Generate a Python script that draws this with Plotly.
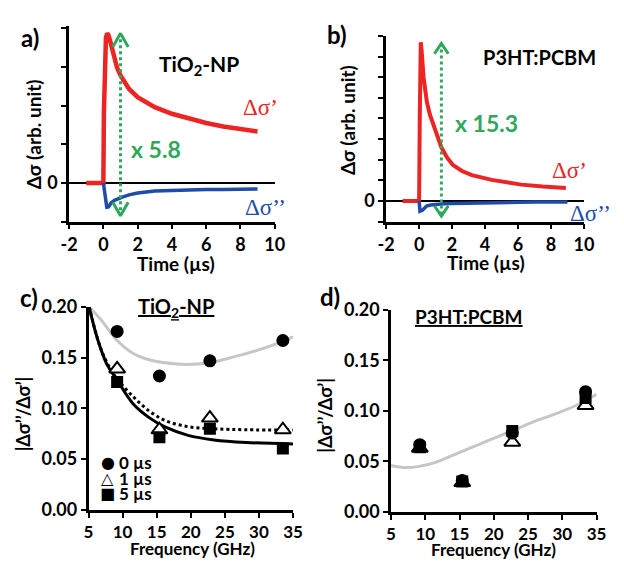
import plotly.graph_objects as go

W, H = 624, 566

# ---------------- data ----------------
# panel a (TiO2-NP) transients
a_t_re = [-1.0, -0.5, 0.0, 0.03, 0.1, 0.15, 0.22, 0.3, 0.38, 0.45, 0.64, 0.8, 1.0, 1.2, 1.5, 2.0, 2.5, 3.0, 4.0, 5.0, 6.0, 7.0, 8.0, 9.0]
a_re = [0.0, 0.0, 0.0, 1.8, 3.5, 3.76, 3.87, 3.82, 3.7, 3.58, 3.26, 2.98, 2.78, 2.63, 2.43, 2.22, 2.08, 1.96, 1.79, 1.66, 1.55, 1.46, 1.39, 1.33]
a_t_im = [0.0, 0.1, 0.2, 0.3, 0.45, 0.65, 0.9, 1.1, 1.5, 2.0, 3.0, 4.0, 5.0, 6.0, 7.0, 8.0, 9.0]
a_im = [0.0, -0.4, -0.63, -0.62, -0.52, -0.45, -0.4, -0.37, -0.31, -0.26, -0.21, -0.19, -0.18, -0.17, -0.17, -0.16, -0.16]

# panel b (P3HT:PCBM) transients
b_t_re = [-1.0, -0.5, 0.0, 0.04, 0.1, 0.15, 0.27, 0.47, 0.65, 0.86, 1.1, 1.35, 1.7, 2.04, 2.6, 3.2, 4.4, 5.3, 6.2, 7.5, 8.9]
b_re = [0.0, 0.0, 0.0, 4.0, 7.7, 7.3, 6.0, 4.8, 4.2, 3.7, 3.1, 2.6, 2.1, 1.75, 1.45, 1.25, 1.02, 0.9, 0.79, 0.7, 0.63]
b_t_im = [0.0, 0.05, 0.2, 0.45, 0.7, 1.0, 1.5, 2.0, 3.0, 4.0, 5.0, 6.0, 7.0, 8.0, 9.0]
b_im = [0.0, -0.5, -0.45, -0.25, -0.2, -0.17, -0.14, -0.12, -0.1, -0.08, -0.07, -0.06, -0.05, -0.05, -0.05]

# ratio arrows
a_arrow = dict(x=1.0, top=3.87, bottom=-0.85, hw=0.45, hh=0.35)
b_arrow = dict(x=1.35, top=7.64, bottom=-0.74, hw=0.42, hh=0.5)

# panel c (TiO2-NP) ratio vs frequency
freq = [9.2, 15.4, 22.8, 33.5]
c_0us = [0.176, 0.132, 0.147, 0.167]
c_1us = [0.139, 0.079, 0.0905, 0.079]
c_5us = [0.126, 0.0715, 0.080, 0.0605]
c_fit0_x = [5.1, 6.8, 9.2, 11.5, 13.9, 16.3, 18.7, 22.7, 25.8, 29.6, 33.4, 35.0]
c_fit0_y = [0.200, 0.1877, 0.167, 0.1545, 0.148, 0.145, 0.1435, 0.145, 0.150, 0.157, 0.166, 0.1705]
c_fit1_x = [5.1, 6.8, 8.2, 9.2, 11.5, 13.9, 16.3, 19.6, 23.4, 28.1, 35.0]
c_fit1_y = [0.200, 0.159, 0.139, 0.129, 0.112, 0.0975, 0.088, 0.082, 0.080, 0.079, 0.0787]
c_fit5_x = [5.1, 6.3, 7.7, 9.2, 11.5, 13.9, 16.3, 19.6, 23.4, 28.1, 35.0]
c_fit5_y = [0.200, 0.169, 0.1435, 0.128, 0.105, 0.091, 0.0815, 0.0735, 0.069, 0.0665, 0.065]

# panel d (P3HT:PCBM)
d_freq = [9.2, 15.4, 22.7, 33.4]
d_0us = [0.0665, 0.031, 0.078, 0.119]
d_1us = [0.063, 0.029, 0.069, 0.1054]
d_5us = [0.064, 0.030, 0.080, 0.1127]
d_fit_x = [5.0, 7.2, 9.1, 11.5, 13.9, 16.7, 19.5, 22.4, 25.7, 28.9, 32.3, 35.0]
d_fit_y = [0.046, 0.0438, 0.045, 0.049, 0.0556, 0.0635, 0.0714, 0.0794, 0.0889, 0.0968, 0.1063, 0.1165]

time_ticks = [-2, 0, 2, 4, 6, 8, 10]
time_ticktext = ["-2", "0", "2", "4", "6", "8", "10"]
freq_ticks = [5, 10, 15, 20, 25, 30, 35]
ratio_ticks = [0.0, 0.05, 0.10, 0.15, 0.20]
ratio_ticktext = ["0.00", "0.05", "0.10", "0.15", "0.20"]
legend_labels = ["0 µs", "1 µs", "5 µs"]
legend_symbols = ["●", "△", "■"]

# ---------------- style ----------------
RED = "#ec2424"
BLUE = "#1f4ca6"
GREEN = "#2ea85a"
GRAY = "#c6c6c6"
FONT = "Lato"

def px_x(p):
    return p / W

def px_y(p):
    return 1 - p / H

fig = go.Figure()

# panel a
fig.add_trace(go.Scatter(x=a_t_re, y=a_re, mode="lines", line=dict(color=RED, width=4.5), xaxis="x", yaxis="y"))
fig.add_trace(go.Scatter(x=a_t_im, y=a_im, mode="lines", line=dict(color=BLUE, width=3.5), xaxis="x", yaxis="y"))
# panel b
fig.add_trace(go.Scatter(x=b_t_re, y=b_re, mode="lines", line=dict(color=RED, width=4), xaxis="x2", yaxis="y2"))
fig.add_trace(go.Scatter(x=b_t_im, y=b_im, mode="lines", line=dict(color=BLUE, width=3.5), xaxis="x2", yaxis="y2"))

# arrows (dotted shaft + chevron heads)
for arr, xa, ya in [(a_arrow, "x", "y"), (b_arrow, "x2", "y2")]:
    fig.add_shape(type="line", x0=arr["x"], x1=arr["x"], y0=arr["top"], y1=arr["bottom"],
                  xref=xa, yref=ya, line=dict(color=GREEN, width=3, dash="dot"))
    fig.add_trace(go.Scatter(
        x=[arr["x"] - arr["hw"], arr["x"], arr["x"] + arr["hw"]],
        y=[arr["top"] - arr["hh"], arr["top"], arr["top"] - arr["hh"]],
        mode="lines", line=dict(color=GREEN, width=3), xaxis=xa, yaxis=ya))
    fig.add_trace(go.Scatter(
        x=[arr["x"] - arr["hw"], arr["x"], arr["x"] + arr["hw"]],
        y=[arr["bottom"] + arr["hh"], arr["bottom"], arr["bottom"] + arr["hh"]],
        mode="lines", line=dict(color=GREEN, width=3), xaxis=xa, yaxis=ya))

# panel c
fig.add_trace(go.Scatter(x=c_fit0_x, y=c_fit0_y, mode="lines", line=dict(color=GRAY, width=3, shape="spline"), xaxis="x3", yaxis="y3"))
fig.add_trace(go.Scatter(x=c_fit1_x, y=c_fit1_y, mode="lines", line=dict(color="black", width=3, dash="dot", shape="spline"), xaxis="x3", yaxis="y3"))
fig.add_trace(go.Scatter(x=c_fit5_x, y=c_fit5_y, mode="lines", line=dict(color="black", width=3, shape="spline"), xaxis="x3", yaxis="y3"))
fig.add_trace(go.Scatter(x=freq, y=c_0us, mode="markers", marker=dict(symbol="circle", size=13, color="black"), xaxis="x3", yaxis="y3"))
fig.add_trace(go.Scatter(x=freq, y=c_1us, mode="markers", marker=dict(symbol="triangle-up", size=14, color="white", line=dict(color="black", width=2)), xaxis="x3", yaxis="y3"))
fig.add_trace(go.Scatter(x=freq, y=c_5us, mode="markers", marker=dict(symbol="square", size=12, color="black"), xaxis="x3", yaxis="y3"))

# panel d
fig.add_trace(go.Scatter(x=d_fit_x, y=d_fit_y, mode="lines", line=dict(color=GRAY, width=3, shape="spline"), xaxis="x4", yaxis="y4"))
fig.add_trace(go.Scatter(x=d_freq, y=d_0us, mode="markers", marker=dict(symbol="circle", size=13, color="black"), xaxis="x4", yaxis="y4"))
fig.add_trace(go.Scatter(x=d_freq, y=d_1us, mode="markers", marker=dict(symbol="triangle-up-open", size=14, color="black", line=dict(width=2)), xaxis="x4", yaxis="y4"))
fig.add_trace(go.Scatter(x=d_freq, y=d_5us, mode="markers", marker=dict(symbol="square", size=12, color="black"), xaxis="x4", yaxis="y4"))

tickfont = dict(family=FONT, size=18, color="black", weight="bold")
axis_common = dict(showgrid=False, showline=True, linecolor="black", linewidth=2.5,
                   ticks="outside", ticklen=5, tickwidth=2, tickcolor="black",
                   tickfont=tickfont, zeroline=False, fixedrange=True)
freq_tickfont = dict(family=FONT, size=17, color="black", weight="bold")

fig.update_layout(
    width=W, height=H, margin=dict(l=0, r=0, t=0, b=0),
    paper_bgcolor="white", plot_bgcolor="rgba(0,0,0,0)",
    showlegend=False,
    xaxis=dict(axis_common, domain=[px_x(62), px_x(274)], range=[-2, 10], tickvals=time_ticks, ticktext=time_ticktext, anchor="y"),
    yaxis=dict(axis_common, domain=[px_y(218), px_y(15)], range=[-1, 4.05], tickvals=[-1, 0, 1, 2, 3, 4],
               ticktext=["", "0", "", "", "", ""], zeroline=True, zerolinecolor="black", zerolinewidth=2, anchor="x"),
    xaxis2=dict(axis_common, domain=[px_x(389), px_x(593)], range=[-2, 10], tickvals=time_ticks, ticktext=time_ticktext, anchor="y2"),
    yaxis2=dict(axis_common, domain=[px_y(218), px_y(25)], range=[-1, 8], tickvals=list(range(-1, 9)),
                ticktext=["", "0"] + [""] * 8, zeroline=True, zerolinecolor="black", zerolinewidth=2, anchor="x2"),
    xaxis3=dict(axis_common, domain=[px_x(82), px_x(293)], range=[5, 35], tickvals=freq_ticks, anchor="y3", tickfont=freq_tickfont),
    yaxis3=dict(axis_common, domain=[px_y(518), px_y(307)], range=[0, 0.2], tickvals=ratio_ticks, ticktext=ratio_ticktext, anchor="x3"),
    xaxis4=dict(axis_common, domain=[px_x(394), px_x(606)], range=[5, 35], tickvals=freq_ticks, anchor="y4", tickfont=freq_tickfont),
    yaxis4=dict(axis_common, domain=[px_y(520), px_y(310)], range=[0, 0.2], tickvals=ratio_ticks, ticktext=ratio_ticktext, anchor="x4"),
)

def txt(text, x, y, size=16, color="black", bold=True, family=FONT, angle=0, xanchor="center"):
    fig.add_annotation(text=text, x=px_x(x), y=px_y(y), xref="paper", yref="paper",
                       showarrow=False, textangle=angle, xanchor=xanchor, yanchor="middle",
                       font=dict(family=family, size=size, color=color, weight="bold" if bold else "normal"))

# panel labels
txt("a)", 22, 27, size=24)
txt("b)", 338, 23, size=24)
txt("c)", 21, 297, size=24)
txt("d)", 331, 296, size=24)

# axis titles
txt("Δσ (arb. unit)", 25, 127, size=19, angle=-90)
txt("Δσ (arb. unit)", 349, 112, size=19, angle=-90)
txt("Time (µs)", 172, 262, size=19)
txt("Time (µs)", 492, 261, size=19)
txt("|Δσ’’/Δσ’|", 14, 418, size=18, angle=-90)
txt("|Δσ’’/Δσ’|", 326, 420, size=18, angle=-90)
txt("Frequency (GHz)", 189, 558, size=17)
txt("Frequency (GHz)", 500, 559, size=17)

# in-plot labels
txt("TiO<sub>2</sub>-NP", 196, 55, size=21)
txt("P3HT:PCBM", 547, 47, size=20)
txt("x 5.8", 152, 143, size=23, color=GREEN)
txt("x 15.3", 492, 115, size=23, color=GREEN)
txt("Δσ’", 259, 99, size=23, color=RED, bold=False, family="Liberation Serif")
txt("Δσ’’", 265, 203, size=23, color=BLUE, bold=False, family="Liberation Serif")
txt("Δσ’", 578, 165, size=23, color=RED, bold=False, family="Liberation Serif")
txt("Δσ’’", 600, 210, size=23, color=BLUE, bold=False, family="Liberation Serif")
txt("<u>TiO<sub>2</sub>-NP</u>", 172, 307, size=20)
txt("<u>P3HT:PCBM</u>", 474, 317, size=19)

# legend in panel c
for i, (sym, lab) in enumerate(zip(legend_symbols, legend_labels)):
    yy = 469 + 16 * i
    txt(sym, 102, yy, size=16, bold=False, family="DejaVu Sans")
    txt(lab, 111, yy, size=17, xanchor="left")

fig.write_html("out.html")
